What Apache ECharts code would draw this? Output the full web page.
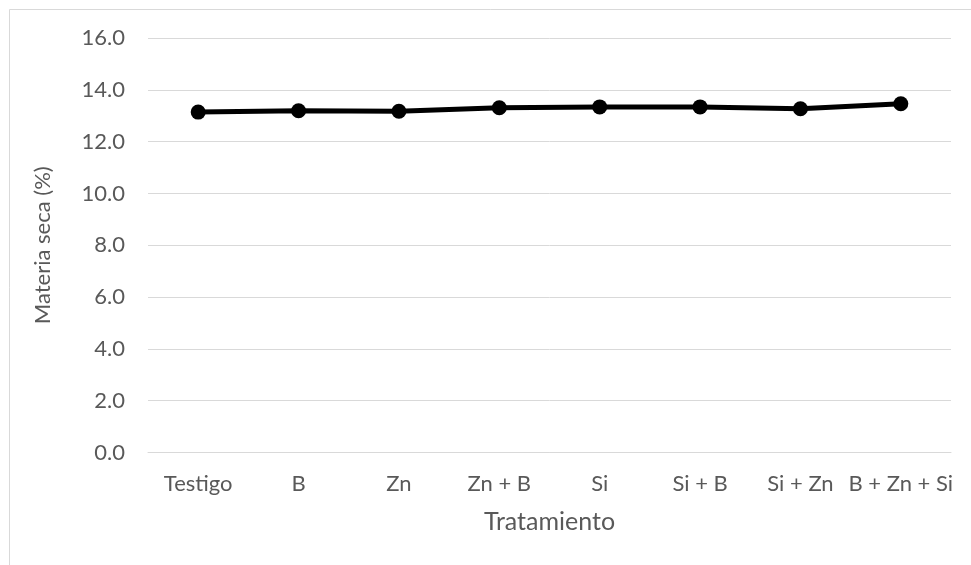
<!DOCTYPE html>
<html>
<head>
<meta charset="utf-8">
<script src="https://cdn.jsdelivr.net/npm/echarts@6/dist/echarts.min.js"></script>
<style>html,body{margin:0;padding:0;background:#fff;}#c{width:971px;height:565px;}</style>
</head>
<body>
<div id="c"></div>
<script>
var categories = ['Testigo', 'B', 'Zn', 'Zn + B', 'Si', 'Si + B', 'Si + Zn', 'B + Zn + Si'];
var values = [13.14, 13.19, 13.17, 13.31, 13.34, 13.34, 13.27, 13.46];
var yTicks = { min: 0, max: 16, interval: 2 };

var chart = echarts.init(document.getElementById('c'), null, { renderer: 'canvas' });
var font = 'Lato, "Open Sans", sans-serif';
chart.setOption({
  animation: false,
  backgroundColor: '#ffffff',
  graphic: [{
    type: 'rect',
    shape: { x: 9.5, y: 9.5, width: 1000, height: 1000 },
    style: { fill: 'none', stroke: '#d9d9d9', lineWidth: 1 },
    silent: true
  }],
  grid: { left: 148, right: 20, top: 38, bottom: 112.5, containLabel: false },
  xAxis: {
    type: 'category',
    data: categories,
    boundaryGap: true,
    name: 'Tratamiento',
    nameLocation: 'middle',
    nameGap: 57,
    nameTextStyle: { fontFamily: font, fontSize: 25, color: '#595959' },
    axisLine: { show: true, lineStyle: { color: '#d9d9d9', width: 1 } },
    axisTick: { show: false },
    axisLabel: { fontFamily: font, fontSize: 22, color: '#595959', margin: 20, interval: 0 },
    splitLine: { show: false }
  },
  yAxis: {
    type: 'value',
    min: yTicks.min,
    max: yTicks.max,
    interval: yTicks.interval,
    name: 'Materia seca (%)',
    nameLocation: 'middle',
    nameGap: 94,
    nameTextStyle: { fontFamily: font, fontSize: 22, color: '#595959' },
    axisLine: { show: false },
    axisTick: { show: false },
    axisLabel: { fontFamily: font, fontSize: 22, color: '#595959', margin: 23,
      formatter: function (v) { return v.toFixed(1); } },
    splitLine: { show: true, lineStyle: { color: '#d9d9d9', width: 1 } }
  },
  series: [{
    type: 'line',
    data: values,
    symbol: 'circle',
    symbolSize: 15,
    lineStyle: { color: '#000000', width: 5 },
    itemStyle: { color: '#000000' },
    z: 3
  }]
});
</script>
</body>
</html>
